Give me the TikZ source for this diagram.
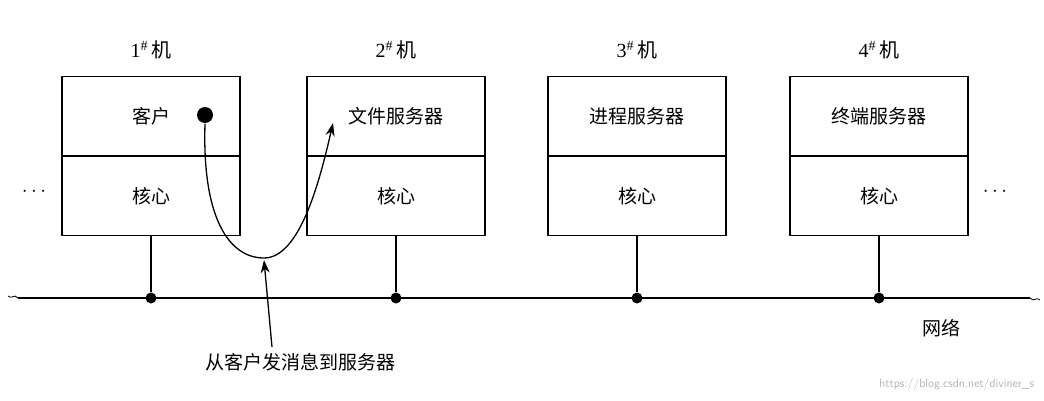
\documentclass[tikz,border=0pt]{standalone}
\usepackage{fontspec}
\setmainfont{Liberation Serif}
\newfontfamily\cjk{Noto Sans CJK SC}
\usetikzlibrary{arrows.meta}
\begin{document}
\begin{tikzpicture}[x=1pt,y=-1pt,line width=1.3pt,
  box/.style={draw,minimum width=178pt,minimum height=79pt,inner sep=0pt,font=\cjk\fontsize{19}{20}\selectfont},
  lab/.style={font=\fontsize{20}{22}\selectfont},
  dot/.style={circle,fill,inner sep=0pt,minimum size=10pt}]
\useasboundingbox (0,0) rectangle (1044,401);
\foreach \i/\x/\t in {1/151/客户,2/396/文件服务器,3/637/进程服务器,4/879/终端服务器}{
  \node[box] (t\i) at (\x,116) {\t};
  \node[box,anchor=north] (k\i) at (t\i.south) {核心};
  \node[lab] (n\i) at (\x,50) {\i\textsuperscript{\#}\,{\cjk 机}};
  \node[dot,minimum size=11pt] (b\i) at (\x,298) {};
  \draw (k\i.south) -- (b\i);
}
\coordinate (L) at (18,298); \coordinate (R) at (1030,298);
\draw (L) -- (R);
\draw[line width=0.8pt] (L) .. controls (14,293) and (12,300) .. (8,296);
\draw[line width=0.8pt] (R) .. controls (1034,303) and (1036,296) .. (1040,300);
\node[lab] (d1) at (34,192) {$\cdots$};
\node[lab] (d2) at (995,192) {$\cdots$};
\node[circle,fill,minimum width=12pt,minimum height=16pt,inner sep=0pt] (c) at (205,115) {};
\coordinate (bot) at (264,258);
\coordinate (tip) at (333,123);
\draw[-{Stealth[length=13pt,width=9pt]}] (c.south) .. controls (202,220) and (230,258) .. (bot) .. controls (300,258) and (320,180) .. (tip);
\node[font=\cjk\fontsize{19}{20}\selectfont] (msg) at (300,362) {从客户发消息到服务器};
\draw[-{Stealth[length=13pt,width=9pt]}] (272,347) -- (264,260);
\node[font=\cjk\fontsize{19}{20}\selectfont] (net) at (941,328) {网络};
\node[text=gray!60,font=\sffamily\fontsize{12}{13}\selectfont,anchor=east] (wm) at (1038,384) {https://blog.csdn.net/diviner\_s};
\end{tikzpicture}
\end{document}
